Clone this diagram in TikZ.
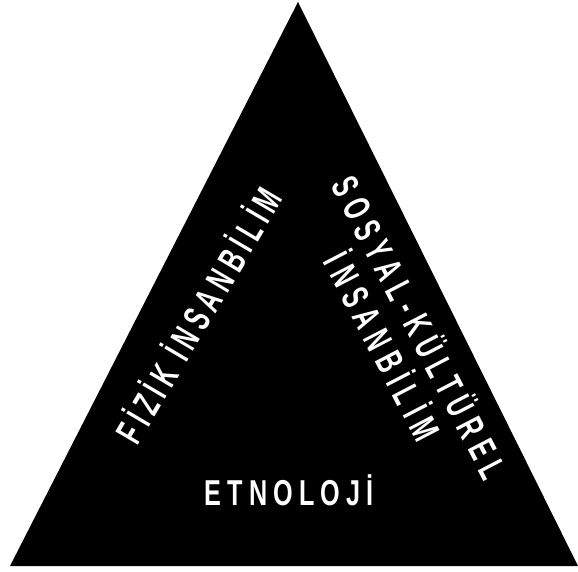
\documentclass[tikz,border=0pt]{standalone}
\usepackage{fontspec}
\setmainfont{Liberation Sans}
\newfontfamily\fizikfont{Liberation Sans}[FakeStretch=0.62,LetterSpace=16]
\newfontfamily\sosyalfont{Liberation Sans}[FakeStretch=0.62,LetterSpace=20]
\newfontfamily\etnofont{Liberation Sans}[FakeStretch=0.7,LetterSpace=17]
\begin{document}
\begin{tikzpicture}[x=1pt,y=-1pt,
  side/.style={text=white, inner sep=0pt, align=center},
  base/.style={text=white, inner sep=0pt,
    font=\etnofont\bfseries\fontsize{36}{40}\selectfont}]
  \useasboundingbox (0,0) rectangle (578,572);
  % triangle
  \fill[black] (298,2) -- (578,566) -- (10,566) -- cycle;
  % labels
  \node[side, rotate=59.5, font=\fizikfont\bfseries\fontsize{38}{42}\selectfont] (fizik) at (197,314) {FİZİK İNSANBİLİM};
  \node[side, rotate=-62.5, font=\sosyalfont\bfseries\fontsize{38}{42}\selectfont] (sosyal) at (403,336) {SOSYAL-KÜLTÜREL\\İNSANBİLİM};
  \node[base] (etno) at (289,490) {ETNOLOJİ};
\end{tikzpicture}
\end{document}
